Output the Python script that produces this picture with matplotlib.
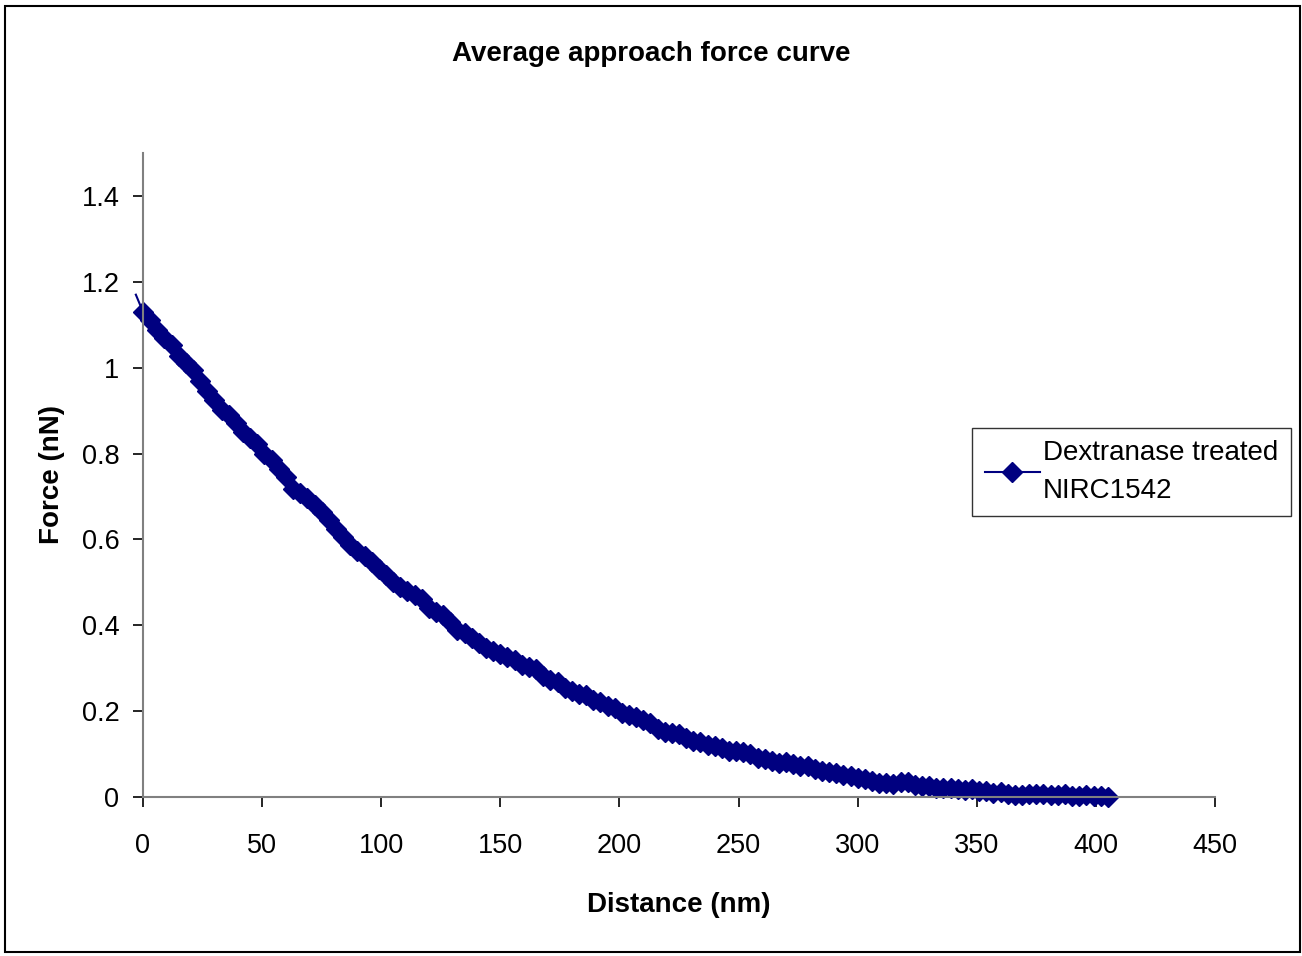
import numpy as np
import matplotlib
matplotlib.use("Agg")
import matplotlib.pyplot as plt
from matplotlib.patches import Rectangle

plt.rcParams['font.family'] = ['Liberation Sans', 'DejaVu Sans']

# approach curve, sampled every 3 nm
step_nm = 3.0
force_nn = [
    1.130, 1.110, 1.088, 1.068, 1.052, 1.028, 1.010, 0.995, 0.968, 0.945,
    0.925, 0.902, 0.890, 0.872, 0.850, 0.836, 0.822, 0.800, 0.786, 0.765,
    0.745, 0.718, 0.708, 0.697, 0.680, 0.664, 0.646, 0.625, 0.606, 0.588,
    0.572, 0.562, 0.548, 0.530, 0.516, 0.500, 0.488, 0.479, 0.470, 0.462,
    0.440, 0.432, 0.425, 0.408, 0.390, 0.382, 0.370, 0.358, 0.348, 0.339,
    0.333, 0.326, 0.318, 0.308, 0.302, 0.298, 0.282, 0.272, 0.268, 0.255,
    0.248, 0.240, 0.237, 0.227, 0.222, 0.211, 0.208, 0.195, 0.190, 0.186,
    0.180, 0.172, 0.158, 0.152, 0.150, 0.146, 0.138, 0.130, 0.128, 0.121,
    0.118, 0.114, 0.108, 0.106, 0.104, 0.100, 0.092, 0.088, 0.083, 0.080,
    0.082, 0.078, 0.072, 0.073, 0.066, 0.060, 0.058, 0.056, 0.052, 0.049,
    0.045, 0.042, 0.038, 0.033, 0.032, 0.030, 0.036, 0.034, 0.028, 0.025,
    0.026, 0.022, 0.020, 0.022, 0.018, 0.016, 0.019, 0.014, 0.013, 0.010,
    0.012, 0.008, 0.005, 0.004, 0.007, 0.006, 0.008, 0.005, 0.004, 0.007,
    0.003, 0.002, 0.005, 0.003, 0.002, 0.000,
]
distance_nm = np.arange(len(force_nn)) * step_nm

# first reading, just before contact (line only)
lead_x, lead_y = -3.0, 1.17

series_label = "Dextranase treated\nNIRC1542"
navy = "#000080"
axis_grey = "#808080"

fig = plt.figure(figsize=(13.02, 9.56), dpi=100)
ax = fig.add_axes([143 / 1302, 1 - 797 / 956, (1215 - 143) / 1302, (797 - 153) / 956])

ax.plot([lead_x, distance_nm[0]], [lead_y, force_nn[0]], color=navy, lw=1.5,
        clip_on=False)
ax.plot(distance_nm, force_nn, color=navy, lw=1.5, marker="D", ms=10,
        markeredgecolor=navy, markerfacecolor=navy, label=series_label,
        clip_on=False)

ax.set_xlim(0, 450)
ax.set_ylim(0, 1.5)
ax.set_xticks(np.arange(0, 451, 50))
ax.set_yticks([0, 0.2, 0.4, 0.6, 0.8, 1.0, 1.2, 1.4])
ax.set_yticklabels(["0", "0.2", "0.4", "0.6", "0.8", "1", "1.2", "1.4"])

for side in ("top", "right"):
    ax.spines[side].set_visible(False)
for side in ("left", "bottom"):
    ax.spines[side].set_color(axis_grey)
    ax.spines[side].set_linewidth(1.5)

ax.tick_params(axis="both", direction="out", length=7, width=1.2,
               color="black", labelsize=19.5)
ax.tick_params(axis="x", pad=19)
ax.tick_params(axis="y", pad=10)

ax.set_xlabel("Distance (nm)", fontsize=20, fontweight="bold", labelpad=24)
ax.set_ylabel("Force (nN)", fontsize=20, fontweight="bold", labelpad=12)
fig.text(0.5, 1 - 54 / 956, "Average approach force curve", ha="center",
         va="center", fontsize=20, fontweight="bold")

leg = fig.legend(loc="upper left", bbox_to_anchor=(972 / 1302, 1 - 428 / 956),
                 fontsize=20, frameon=True, fancybox=False, borderpad=0.45,
                 handlelength=2.0, handletextpad=0.1, borderaxespad=0)
leg.get_frame().set_edgecolor("black")
leg.get_frame().set_linewidth(1.0)
for t in leg.get_texts():
    t.set_linespacing(1.55)

# chart area border
fig.patches.append(Rectangle((5 / 1302, 4 / 956), 1295 / 1302, 946 / 956,
                             transform=fig.transFigure, fill=False,
                             edgecolor="black", lw=1.5))

fig.savefig("out.png", dpi=100)
